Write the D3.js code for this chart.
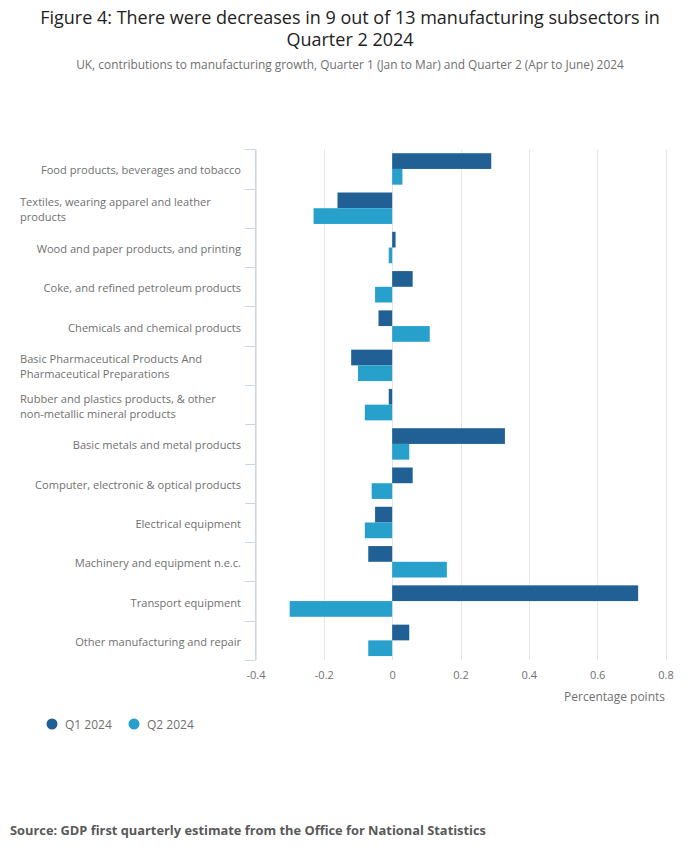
<!DOCTYPE html>
<html>
<head>
<meta charset="utf-8">
<script src="https://cdn.jsdelivr.net/npm/d3@7"></script>
<style>
  body { margin: 0; background: #fff; font-family: "Open Sans", sans-serif; }
</style>
</head>
<body>
<svg id="chart" width="700" height="857"></svg>
<script>
// chart data
const categories = [
  'Food products, beverages and tobacco',
  'Textiles, wearing apparel and leather products',
  'Wood and paper products, and printing',
  'Coke, and refined petroleum products',
  'Chemicals and chemical products',
  'Basic Pharmaceutical Products And Pharmaceutical Preparations',
  'Rubber and plastics products, & other non-metallic mineral products',
  'Basic metals and metal products',
  'Computer, electronic & optical products',
  'Electrical equipment',
  'Machinery and equipment n.e.c.',
  'Transport equipment',
  'Other manufacturing and repair'
];
const q1 = [0.29, -0.16, 0.01, 0.06, -0.04, -0.12, -0.01, 0.33, 0.06, -0.05, -0.07, 0.72, 0.05];
const q2 = [0.03, -0.23, -0.01, -0.05, 0.11, -0.10, -0.08, 0.05, -0.06, -0.08, 0.16, -0.30, -0.07];
const seriesNames = ['Q1 2024', 'Q2 2024'];
const xTicks = [-0.4, -0.2, 0, 0.2, 0.4, 0.6, 0.8];

const colors = ['#206095', '#27a0cc'];

const svg = d3.select('#chart');

const x = d3.scaleLinear().domain([-0.4, 0.8]).range([255.5, 665.5]);
const y = d3.scaleBand().domain(categories).range([149.3, 660]);
const ySub = d3.scaleBand().domain(seriesNames).range([0, y.bandwidth()]).paddingOuter(0.25);

// titles
svg.append('text').attr('x', 350).attr('y', 24).attr('text-anchor', 'middle')
  .attr('font-size', 18).attr('fill', '#222')
  .text('Figure 4: There were decreases in 9 out of 13 manufacturing subsectors in');
svg.append('text').attr('x', 350).attr('y', 46).attr('text-anchor', 'middle')
  .attr('font-size', 18).attr('fill', '#222')
  .text('Quarter 2 2024');
svg.append('text').attr('x', 350).attr('y', 69).attr('text-anchor', 'middle')
  .attr('font-size', 11.9).attr('fill', '#707070')
  .text('UK, contributions to manufacturing growth, Quarter 1 (Jan to Mar) and Quarter 2 (Apr to June) 2024');

// gridlines
svg.append('g').selectAll('line').data(xTicks).join('line')
  .attr('x1', d => Math.round(x(d)) + 0.5).attr('x2', d => Math.round(x(d)) + 0.5)
  .attr('y1', y.range()[0]).attr('y2', y.range()[1])
  .attr('stroke', '#e6e6e6').attr('stroke-width', 1);

// bars
const rows = categories.map((c, i) => ({ c, vals: [q1[i], q2[i]] }));
const g = svg.append('g').selectAll('g').data(rows).join('g')
  .attr('transform', d => `translate(0,${y(d.c)})`);
g.selectAll('rect').data(d => d.vals.map((v, k) => ({ v, k }))).join('rect')
  .attr('x', d => x(Math.min(0, d.v)))
  .attr('width', d => Math.abs(x(d.v) - x(0)))
  .attr('y', d => ySub(seriesNames[d.k]))
  .attr('height', ySub.bandwidth())
  .attr('fill', d => colors[d.k]);

// y axis line and ticks at band edges
const yAxis = svg.append('g');
yAxis.append('line').attr('x1', 255.5).attr('x2', 255.5)
  .attr('y1', y.range()[0]).attr('y2', y.range()[1])
  .attr('stroke', '#ccd6eb');
const edges = categories.map(c => y(c)).concat([y.range()[1]]);
yAxis.selectAll('.tick').data(edges).join('line')
  .attr('x1', 245).attr('x2', 255.5)
  .attr('y1', d => Math.round(d) + 0.5).attr('y2', d => Math.round(d) + 0.5)
  .attr('stroke', '#ccd6eb');

// category labels, wrapped
const maxW = 222;
const measure = svg.append('text').attr('font-size', 11.1);
function wrap(str) {
  const words = str.split(' ');
  const lines = [];
  let cur = '';
  words.forEach(w => {
    const t = cur ? cur + ' ' + w : w;
    measure.text(t);
    if (measure.node().getComputedTextLength() > maxW && cur) {
      lines.push(cur);
      cur = w;
    } else cur = t;
  });
  lines.push(cur);
  return lines;
}
categories.forEach(c => {
  const lines = wrap(c);
  const cy = y(c) + y.bandwidth() / 2;
  const multi = lines.length > 1;
  const t = svg.append('text').attr('font-size', 11.1).attr('fill', '#707070')
    .attr('text-anchor', multi ? 'start' : 'end');
  lines.forEach((l, i) => {
    t.append('tspan').attr('x', multi ? 20 : 241)
      .attr('y', cy + 5.5 + (i - (lines.length - 1) / 2) * 15)
      .text(l);
  });
});
measure.remove();

// x axis labels
const xAxis = d3.axisBottom(x).tickValues(xTicks).tickSize(0).tickPadding(0)
  .tickFormat(d => String(d));
const xg = svg.append('g').attr('transform', 'translate(0,671)').call(xAxis);
xg.select('.domain').remove();
xg.selectAll('text').attr('font-family', '"Open Sans", sans-serif')
  .attr('font-size', 11).attr('fill', '#707070').attr('dy', '0.71em');
svg.append('text').attr('x', 665).attr('y', 701).attr('text-anchor', 'end')
  .attr('font-size', 12).attr('fill', '#707070').text('Percentage points');

// legend
const legendX = [52, 134];
const lg = svg.append('g').selectAll('g').data(seriesNames).join('g')
  .attr('transform', (d, i) => `translate(${legendX[i]},724)`);
lg.append('circle').attr('r', 5.5).attr('fill', (d, i) => colors[i]);
lg.append('text').attr('x', 13).attr('y', 4.5).attr('font-size', 12)
  .attr('fill', '#707070').text(d => d);

// source
svg.append('text').attr('x', 10).attr('y', 835).attr('font-size', 12.85)
  .attr('font-weight', 'bold').attr('fill', '#595959')
  .text('Source: GDP first quarterly estimate from the Office for National Statistics');
</script>
</body>
</html>
